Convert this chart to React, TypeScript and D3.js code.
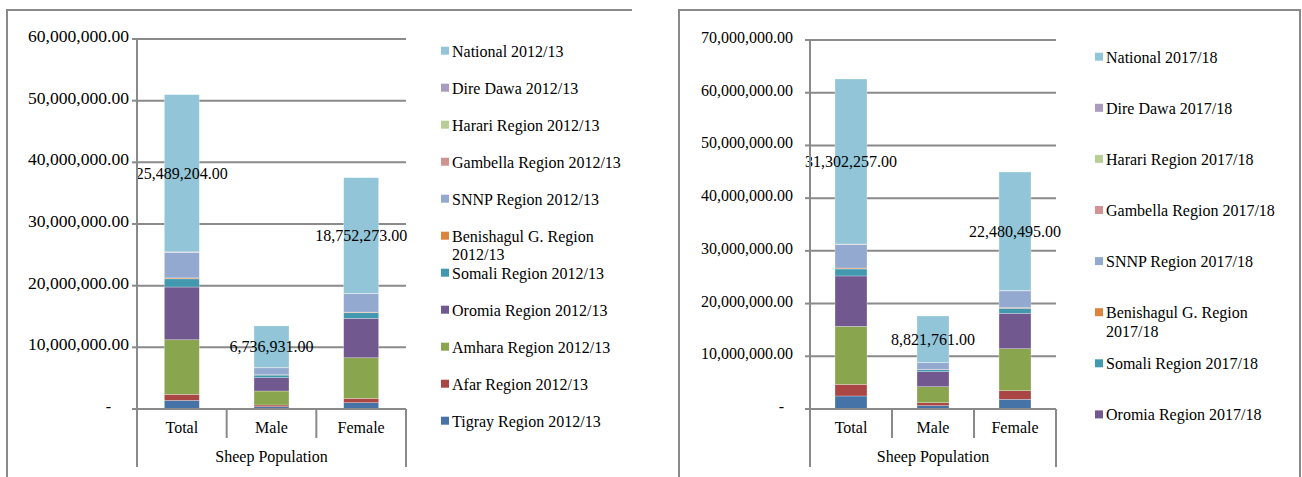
import React from "react";
import * as d3 from "d3";

const categories = ["Total", "Male", "Female"];
const groupLabel = "Sheep Population";

const regionNames = [
  "Tigray Region",
  "Afar Region",
  "Amhara Region",
  "Oromia Region",
  "Somali Region",
  "Benishagul G. Region",
  "SNNP Region",
  "Gambella Region",
  "Harari Region",
  "Dire Dawa",
  "National",
];

const regionColors = [
  "#4572A7",
  "#AA4643",
  "#89A54E",
  "#71588F",
  "#4198AF",
  "#DB843D",
  "#93A9CF",
  "#D19392",
  "#B9CD96",
  "#A99BBD",
  "#92C5D8",
];

// 2012/13 values (Total, Male, Female)
const tigray2012 = [1390000, 370000, 1020000];
const afar2012 = [990000, 280000, 710000];
const amhara2012 = [8850000, 2270000, 6580000];
const oromia2012 = [8550000, 2160000, 6390000];
const somali2012 = [1330000, 420000, 910000];
const benishagul2012 = [150000, 50000, 100000];
const snnp2012 = [4110000, 1130000, 2980000];
const gambella2012 = [30000, 10000, 20000];
const harari2012 = [20000, 10000, 10000];
const direDawa2012 = [69204, 36931, 32273];
const national2012 = [25489204, 6736931, 18752273];

// 2017/18 values (Total, Male, Female)
const tigray2017 = [2470000, 630000, 1840000];
const afar2017 = [2200000, 570000, 1630000];
const amhara2017 = [11000000, 3030000, 7970000];
const oromia2017 = [9570000, 2850000, 6720000];
const somali2017 = [1330000, 380000, 950000];
const benishagul2017 = [170000, 50000, 120000];
const snnp2017 = [4460000, 1280000, 3180000];
const gambella2017 = [40000, 10000, 30000];
const harari2017 = [20000, 10000, 10000];
const direDawa2017 = [42257, 11761, 30495];
const national2017 = [31302257, 8821761, 22480495];

const ticks2012 = [0, 10000000, 20000000, 30000000, 40000000, 50000000, 60000000];
const ticks2017 = [0, 10000000, 20000000, 30000000, 40000000, 50000000, 60000000, 70000000];

const series2012 = [
  tigray2012, afar2012, amhara2012, oromia2012, somali2012, benishagul2012,
  snnp2012, gambella2012, harari2012, direDawa2012, national2012,
];
const series2017 = [
  tigray2017, afar2017, amhara2017, oromia2017, somali2017, benishagul2017,
  snnp2017, gambella2017, harari2017, direDawa2017, national2017,
];

const FONT = "'Liberation Serif', 'Times New Roman', serif";
const GRAY = "#8a8a8a";

const fmt = (v: number) =>
  v === 0 ? "-" : d3.format(",.2f")(v);

type ChartProps = {
  year: string;
  series: number[][];
  ticks: number[];
  frameLeft: number;
  frameRight: number;
  rightBorder: boolean;
  plotL: number;
  plotR: number;
  y0: number;
  yTop: number;
  tickLabelLen?: number;
  legendX: number;
  legendY0: number;
  legendStep: number;
  legendCount: number;
};

function Chart(p: ChartProps) {
  const yMax = p.ticks[p.ticks.length - 1];
  const y = d3.scaleLinear().domain([0, yMax]).range([p.y0, p.yTop]);
  const x = d3.scaleBand<string>().domain(categories).range([p.plotL, p.plotR]).padding(0);
  const barW = x.bandwidth() * 0.39;

  const rows = categories.map((c, ci) => {
    const o: any = { cat: c };
    p.series.forEach((s, si) => (o["s" + si] = s[ci]));
    return o;
  });
  const keys = p.series.map((_, si) => "s" + si);
  const stacked = d3.stack<any>().keys(keys)(rows);

  const legendOrder = d3.range(regionNames.length).reverse().slice(0, p.legendCount);

  return (
    <g fontFamily={FONT} fontSize={16} fill="#000">
      {/* frame */}
      <line x1={p.frameLeft} x2={p.frameRight} y1={10} y2={10} stroke={GRAY} strokeWidth={2} />
      <line x1={p.frameLeft} x2={p.frameLeft} y1={9} y2={477} stroke={GRAY} strokeWidth={2} />
      {p.rightBorder && (
        <line x1={p.frameRight} x2={p.frameRight} y1={9} y2={477} stroke={GRAY} strokeWidth={2} />
      )}

      {/* gridlines */}
      {p.ticks.filter((t) => t > 0).map((t) => (
        <line key={"g" + t} x1={p.plotL} x2={p.plotR} y1={y(t)} y2={y(t)} stroke={GRAY} strokeWidth={2} />
      ))}
      {/* y ticks */}
      {p.ticks.map((t) => (
        <line key={"t" + t} x1={p.plotL - 5} x2={p.plotL} y1={y(t)} y2={y(t)} stroke={GRAY} strokeWidth={2} />
      ))}
      {/* y labels */}
      {p.ticks.map((t) =>
        t === 0 ? (
          <text key={"l" + t} x={p.plotL - 28.5} y={y(t) + 3} textAnchor="middle">-</text>
        ) : (
          <text
            key={"l" + t}
            x={p.plotL - (p.tickLabelLen ? 8 : 17)}
            y={y(t) + 3}
            textAnchor="end"
            {...(p.tickLabelLen ? { textLength: p.tickLabelLen, lengthAdjust: "spacingAndGlyphs" } : {})}
          >
            {fmt(t)}
          </text>
        )
      )}

      {/* bars */}
      {stacked.map((layer, li) => (
        <g key={"b" + li} fill={regionColors[li]}>
          {layer.map((d, di) => {
            const cx = (x(categories[di]) as number) + x.bandwidth() / 2;
            return (
              <rect
                key={di}
                x={cx - barW / 2}
                y={y(d[1])}
                width={barW}
                height={Math.max(0, y(d[0]) - y(d[1]))}
                stroke="rgba(255,255,255,0.45)"
                strokeWidth={0.6}
              />
            );
          })}
        </g>
      ))}

      {/* data labels on National */}
      {stacked[stacked.length - 1].map((d, di) => {
        const cx = (x(categories[di]) as number) + x.bandwidth() / 2;
        const mid = (y(d[0]) + y(d[1])) / 2;
        return (
          <text key={"dl" + di} x={cx} y={mid + 5.5} textAnchor="middle">
            {fmt(d[1] - d[0])}
          </text>
        );
      })}

      {/* axes */}
      <line x1={p.plotL} x2={p.plotL} y1={p.yTop - 1} y2={467} stroke={GRAY} strokeWidth={2} />
      <line x1={p.plotL - 5} x2={p.plotR} y1={p.y0} y2={p.y0} stroke={GRAY} strokeWidth={2} />
      {categories.map((c, i) => {
        const xr = (x(c) as number) + x.bandwidth();
        const last = i === categories.length - 1;
        return (
          <line key={"cd" + i} x1={xr} x2={xr} y1={p.y0} y2={last ? 467 : 438} stroke={GRAY} strokeWidth={2} />
        );
      })}
      {categories.map((c) => (
        <text key={"cl" + c} x={(x(c) as number) + x.bandwidth() / 2} y={433} textAnchor="middle">
          {c}
        </text>
      ))}
      <text x={(p.plotL + p.plotR) / 2} y={461.5} textAnchor="middle">
        {groupLabel}
      </text>

      {/* legend */}
      {legendOrder.map((si, k) => {
        const by = p.legendY0 + k * p.legendStep;
        const name = regionNames[si];
        const wrap = name === "Benishagul G. Region";
        return (
          <g key={"lg" + si}>
            <rect x={p.legendX} y={by - 10} width={8} height={8} fill={regionColors[si]} />
            {wrap ? (
              <text x={p.legendX + 11} y={by}>
                <tspan x={p.legendX + 11} y={by}>{name}</tspan>
                <tspan x={p.legendX + 11} y={by + 18.5}>{p.year}</tspan>
              </text>
            ) : (
              <text x={p.legendX + 11} y={by}>{name + " " + p.year}</text>
            )}
          </g>
        );
      })}
    </g>
  );
}

export default function App() {
  return (
    <svg
      width={1302}
      height={477}
      style={{ position: "absolute", left: 0, top: 0, background: "#fff" }}
    >
      <rect width={1302} height={477} fill="#fff" />
      <Chart
        year="2012/13"
        series={series2012}
        ticks={ticks2012}
        frameLeft={7}
        frameRight={632}
        rightBorder={false}
        plotL={137}
        plotR={406}
        y0={409}
        yTop={39}
        tickLabelLen={101}
        legendX={441}
        legendY0={56.7}
        legendStep={37}
        legendCount={11}
      />
      <Chart
        year="2017/18"
        series={series2017}
        ticks={ticks2017}
        frameLeft={679}
        frameRight={1300}
        rightBorder={true}
        plotL={810}
        plotR={1056}
        y0={409}
        yTop={40}
        legendX={1095}
        legendY0={62.7}
        legendStep={51.1}
        legendCount={8}
      />
    </svg>
  );
}
